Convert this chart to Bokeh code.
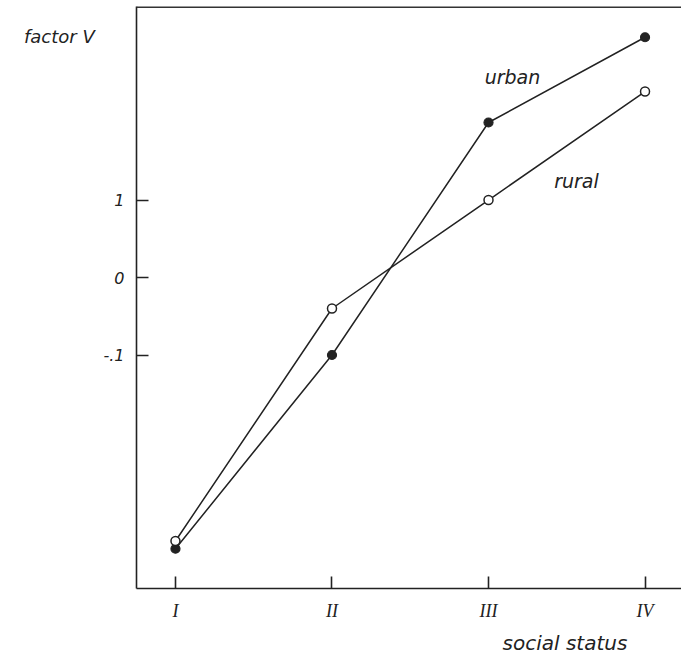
from bokeh.plotting import figure
from bokeh.models import Label, Span, FixedTicker, Range1d, Title
from bokeh.embed import file_html
from bokeh.resources import INLINE

# data
status = [1, 2, 3, 4]
status_labels = ["I", "II", "III", "IV"]
urban = [-0.35, -0.10, 0.20, 0.31]
rural = [-0.34, -0.04, 0.10, 0.24]
y_ticks = [-0.1, 0.0, 0.1]
y_tick_labels = ["-.1", "0", "1"]

FONT = "DejaVu Sans"
X0, X1 = 0.751, 4.233
Y0, Y1 = -0.4013, 0.3497

p = figure(width=681, height=660, output_backend="svg", toolbar_location=None,
           x_range=Range1d(X0, X1), y_range=Range1d(Y0, Y1),
           min_border_left=136, min_border_right=0, min_border_top=6, min_border_bottom=72)
p.outline_line_color = None
p.grid.visible = False
p.background_fill_color = "white"
p.border_fill_color = "white"

for ax in (p.xaxis[0], p.yaxis[0]):
    ax.axis_line_color = "#222222"
    ax.axis_line_width = 1.6
    ax.major_tick_in = 12
    ax.major_tick_out = 0
    ax.major_tick_line_color = "#222222"
    ax.major_tick_line_width = 1.6
    ax.minor_tick_line_color = None
    ax.major_label_text_font_style = "italic"
    ax.major_label_text_color = "#222222"
    ax.major_label_standoff = 12
    ax.axis_label_text_font = FONT
    ax.axis_label_text_font_style = "italic"
    ax.axis_label_text_font_size = "18px"
    ax.axis_label_text_color = "#222222"

p.xaxis.ticker = FixedTicker(ticks=status)
p.xaxis.major_label_overrides = {s: l for s, l in zip(status, status_labels)}
p.xaxis.major_label_text_font = "Liberation Serif"
p.xaxis.major_label_text_font_size = "18px"

p.yaxis.ticker = FixedTicker(ticks=y_ticks)
p.yaxis.major_label_overrides = {t: l for t, l in zip(y_ticks, y_tick_labels)}
p.yaxis.major_label_text_font = FONT
p.yaxis.major_label_text_font_size = "16px"
# label sits at the top end of the axis; leading blank lines push it down
p.yaxis.axis_label = "\n\n\nfactor  V"
p.yaxis.axis_label_text_line_height = 0.95
p.yaxis.axis_label_orientation = "horizontal"
p.yaxis.axis_label_align = "end"
p.yaxis.axis_label_standoff = 0

# x axis title, placed below the axis
p.add_layout(Title(text="social  status", align="left", offset=366, standoff=10,
                   text_font=FONT, text_font_style="italic", text_font_size="20px",
                   text_color="#222222"), "below")

# top border line
p.add_layout(Span(location=Y1, dimension="width", line_color="#333333", line_width=3))

p.line(status, urban, line_color="#222222", line_width=1.5)
p.line(status, rural, line_color="#222222", line_width=1.5)
p.scatter(status, urban, size=9, fill_color="#222222", line_color="#222222", line_width=1.2)
p.scatter(status, rural, size=9, fill_color="white", line_color="#222222", line_width=1.5)

def lab(x, y, text):
    l = Label(x=x, y=y, text=text, text_font=FONT, text_font_style="italic",
              text_font_size="19px", text_color="#222222",
              text_align="center", text_baseline="middle")
    p.add_layout(l)

lab(3.153, 0.259, "urban")
lab(3.562, 0.125, "rural")

open("out.html", "w").write(file_html(p, INLINE))
